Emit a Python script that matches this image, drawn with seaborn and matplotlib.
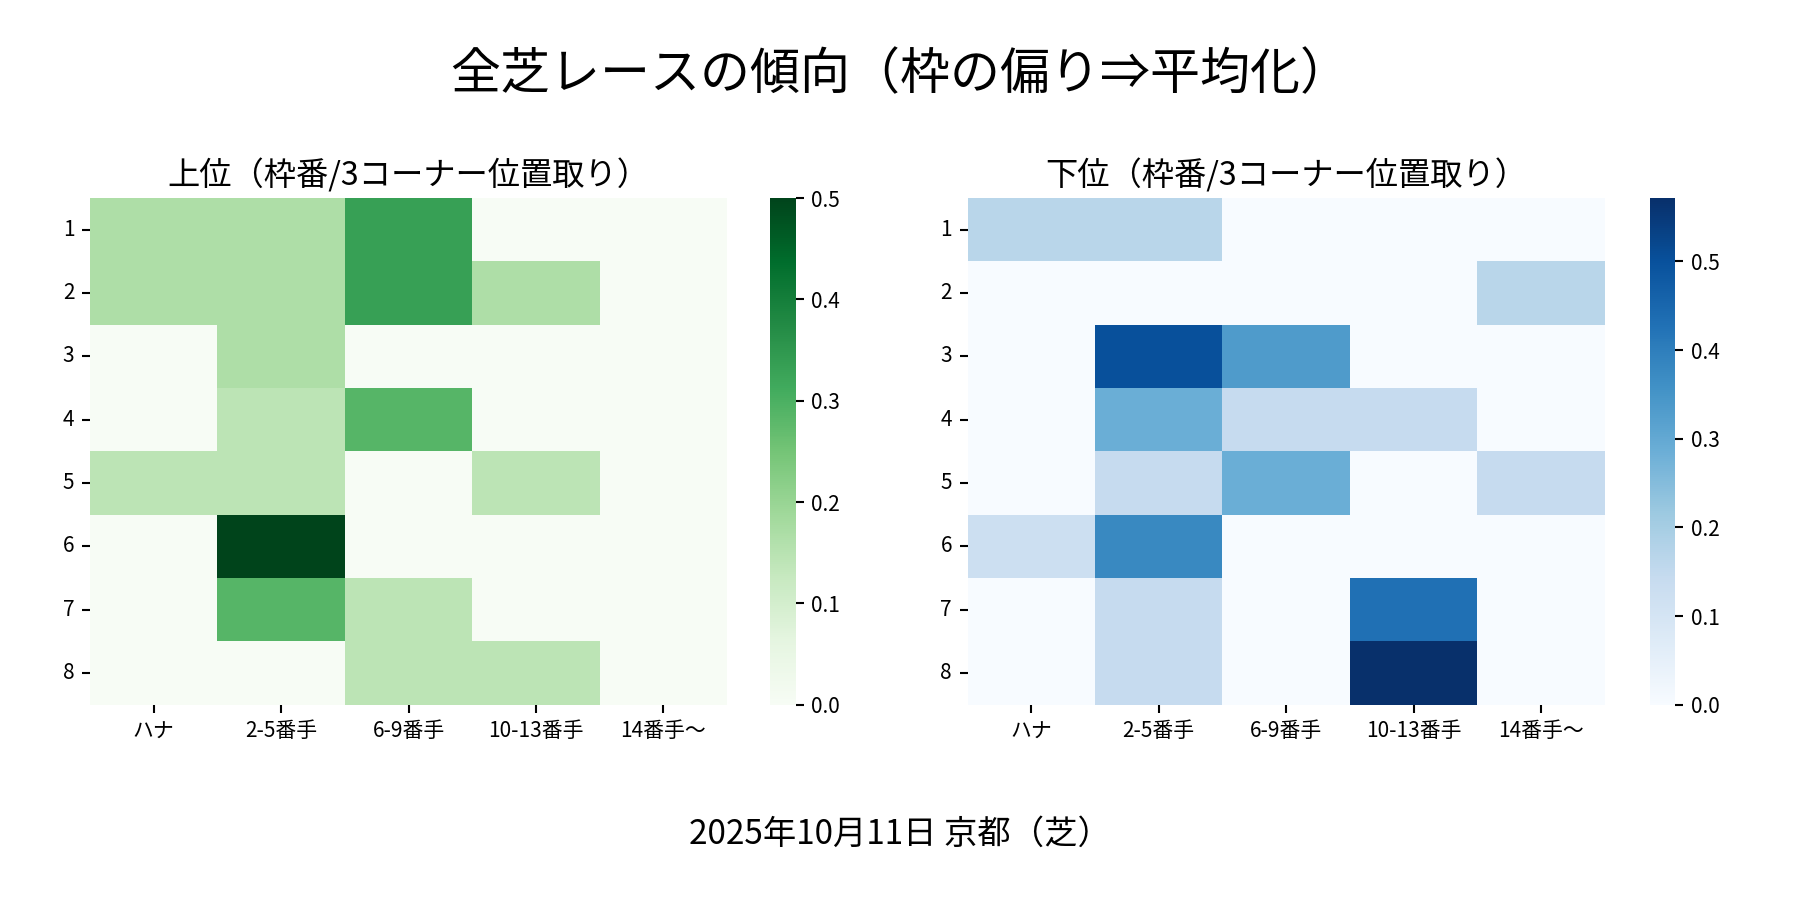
import numpy as np
import pandas as pd
import seaborn as sns
import matplotlib
matplotlib.use("Agg")
import matplotlib.pyplot as plt

sns.set_theme(style="white")
plt.rcParams['font.family'] = ['Noto Sans CJK JP', 'DejaVu Sans']
plt.rcParams['text.color'] = 'black'
plt.rcParams['xtick.color'] = 'black'
plt.rcParams['ytick.color'] = 'black'

# Data
waku = [1, 2, 3, 4, 5, 6, 7, 8]
positions = ['ハナ', '2-5番手', '6-9番手', '10-13番手', '14番手～']

upper = [
    [1/6, 1/6, 1/3, 0, 0],
    [1/6, 1/6, 1/3, 1/6, 0],
    [0, 1/6, 0, 0, 0],
    [0, 1/7, 2/7, 0, 0],
    [1/7, 1/7, 0, 1/7, 0],
    [0, 1/2, 0, 0, 0],
    [0, 2/7, 1/7, 0, 0],
    [0, 0, 1/7, 1/7, 0],
]

lower = [
    [1/6, 1/6, 0, 0, 0],
    [0, 0, 0, 0, 1/6],
    [0, 1/2, 1/3, 0, 0],
    [0, 2/7, 1/7, 1/7, 0],
    [0, 1/7, 2/7, 0, 1/7],
    [1/8, 3/8, 0, 0, 0],
    [0, 1/7, 0, 3/7, 0],
    [0, 1/7, 0, 4/7, 0],
]

df_upper = pd.DataFrame(upper, index=waku, columns=positions)
df_lower = pd.DataFrame(lower, index=waku, columns=positions)

fig = plt.figure(figsize=(12, 6), dpi=150)
ax1 = fig.add_axes([0.05, 0.217, 0.354, 0.563])
cax1 = fig.add_axes([0.428, 0.217, 0.014, 0.563])
ax2 = fig.add_axes([0.5375, 0.217, 0.354, 0.563])
cax2 = fig.add_axes([0.9165, 0.217, 0.014, 0.563])

sns.heatmap(df_upper, cmap='Greens', vmin=0, ax=ax1, cbar_ax=cax1)
sns.heatmap(df_lower, cmap='Blues', vmin=0, ax=ax2, cbar_ax=cax2)

for ax, title in [(ax1, '上位（枠番/3コーナー位置取り）'), (ax2, '下位（枠番/3コーナー位置取り）')]:
    ax.set_title(title, fontsize=15.5)
    ax.set_xlabel('')
    ax.set_ylabel('')
    ax.tick_params(axis='both', labelsize=10, length=4, width=1, left=True, bottom=True)
    ax.tick_params(axis='y', rotation=0)
    ax.tick_params(axis='x', rotation=0)

for cax in [cax1, cax2]:
    cax.tick_params(labelsize=10, length=4, width=1, right=True)

fig.suptitle('全芝レースの傾向（枠の偏り⇒平均化）', fontsize=24, y=0.945)
fig.text(0.5, 0.063, '2025年10月11日 京都（芝）', ha='center', fontsize=16)

plt.savefig('out.png', dpi=150)
